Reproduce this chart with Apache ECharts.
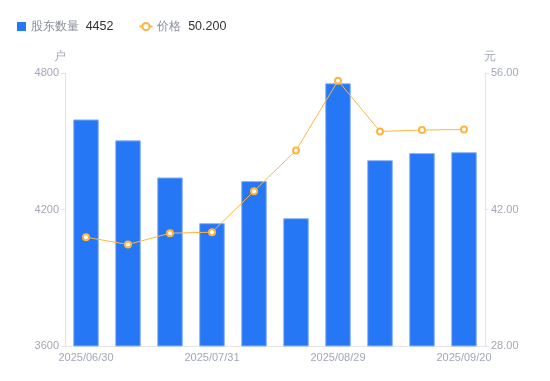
<!DOCTYPE html>
<html><head><meta charset="utf-8">
<script src="https://cdn.jsdelivr.net/npm/echarts@6/dist/echarts.min.js"></script>
<style>html,body{margin:0;padding:0;background:#fff}#c{width:550px;height:381px}</style>
</head><body><div id="c"></div>
<script>
const categories = ['2025/06/30','2025/07/10','2025/07/20','2025/07/31','2025/08/08','2025/08/20','2025/08/29','2025/09/05','2025/09/10','2025/09/20'];
const holders = [4596, 4504, 4341, 4140, 4325, 4162, 4755, 4417, 4448, 4452];
const prices = [39.16, 38.41, 39.57, 39.67, 43.88, 48.06, 55.21, 50.01, 50.15, 50.20];
const leftTicks = [3600, 4800, 600];
const rightTicks = [28, 56, 14];
const lastVals = {'股东数量': String(holders[holders.length-1]), '价格': prices[prices.length-1].toFixed(3)};

const chart = echarts.init(document.getElementById('c'));
const axisColor = '#e3e4ea', labelColor = '#a3a6b8';
chart.setOption({
  animation: false,
  legend: {
    left: 8, top: 15, itemWidth: 13, itemHeight: 9, itemGap: 25,
    data: [
      {name:'股东数量', icon:'path://M0,0M4,0h9v9h-9zM13,9', itemStyle: {borderWidth: 0}},
      {name:'价格'}
    ],
    formatter: n => '{n|' + n + '}  {v|' + lastVals[n] + '}',
    textStyle: { rich: { n: {color:'#8a8d9c', fontSize: 12}, v: {color:'#333', fontSize: 12.5} } }
  },
  grid: { left: 65, right: 65, top: 73, bottom: 35 },
  xAxis: {
    type: 'category', data: categories,
    axisLine: { lineStyle: { color: axisColor } },
    axisTick: { show: false },
    axisLabel: { interval: 2, color: labelColor, fontSize: 11, margin: 6 }
  },
  yAxis: [
    { type: 'value', name: '户', min: leftTicks[0], max: leftTicks[1], interval: leftTicks[2],
      nameTextStyle: { color: labelColor, fontSize: 12, padding: [0, 10, 0, 0] }, nameGap: 10,
      axisLine: { show: true, lineStyle: { color: axisColor } },
      axisTick: { show: true, length: 4, lineStyle: { color: axisColor } },
      splitLine: { show: false },
      axisLabel: { color: labelColor, fontSize: 11, margin: 6, formatter: v => String(v) } },
    { type: 'value', name: '元', min: rightTicks[0], max: rightTicks[1], interval: rightTicks[2],
      nameTextStyle: { color: labelColor, fontSize: 12, padding: [0, 0, 0, 10] }, nameGap: 10,
      axisLine: { show: true, lineStyle: { color: axisColor } },
      axisTick: { show: true, length: 4, lineStyle: { color: axisColor } },
      splitLine: { show: false },
      axisLabel: { color: labelColor, fontSize: 11, margin: 6, formatter: v => v.toFixed(2) } }
  ],
  series: [
    { name: '股东数量', type: 'bar', data: holders, barWidth: '61%',
      itemStyle: { color: '#2677f5', borderColor: '#8fb6f7', borderWidth: 1 } },
    { name: '价格', type: 'line', yAxisIndex: 1, data: prices,
      symbol: 'emptyCircle', symbolSize: 6,
      lineStyle: { color: '#ffb53d', width: 1 },
      itemStyle: { color: '#ffb53d', borderWidth: 2 } }
  ]
});
</script></body></html>
